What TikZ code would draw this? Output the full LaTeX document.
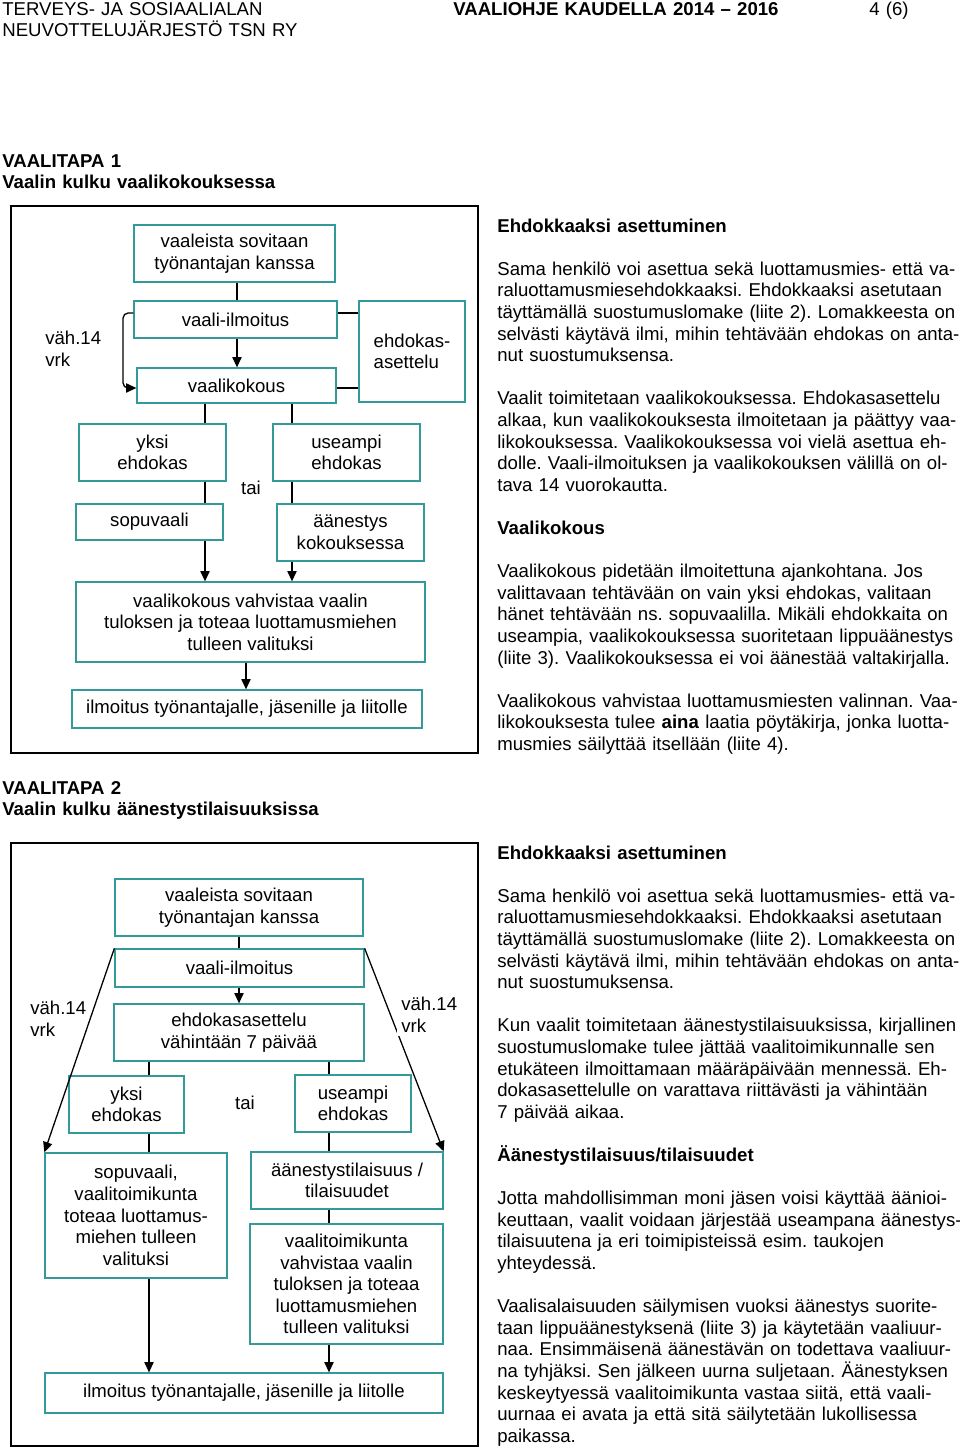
\documentclass[tikz,border=0pt]{standalone}
\usepackage{fontspec}
\setmainfont{Liberation Sans}
\usepackage{tikz}
\usetikzlibrary{positioning,arrows.meta}
\definecolor{boxteal}{RGB}{51,153,153}
\newcommand\pxu{0.58333pt}

\begin{document}
\frenchspacing
\begin{tikzpicture}[x=0.58333pt,y=-0.58333pt,
    every node/.style={font=\fontsize{10.85}{12.6}\selectfont,inner sep=0pt},
    box/.style={draw=boxteal,line width=0.75pt,align=center},
    link/.style={line width=0.75pt},
    arr/.style={link,-{Triangle[length=6pt,width=5.4pt]}},
    frame/.style={line width=0.9pt},
    para/.style={anchor=base west,align=left,text width=285pt}]
    \fill[white] (0,0) rectangle (960,1451);
    \useasboundingbox (0,0) rectangle (960,1451);
    % page head
    \node[para] (head) at (2,15) {TERVEYS- JA SOSIAALIALAN\\NEUVOTTELUJÄRJESTÖ TSN RY};
    \node[para] (title) at (453,15) {\textbf{VAALIOHJE KAUDELLA 2014 – 2016}};
    \node[para] (page) at (869,15) {4 (6)};
    % vaalitapa 1
    \node[para] (tapa1) at (2,167) {\textbf{VAALITAPA 1}\\\textbf{Vaalin kulku vaalikokouksessa}};
    \draw[frame] (11,206) rectangle (478,753);
    \node[box,minimum width=201*\pxu,minimum height=57*\pxu] (sov1) at (234.5,253.5) {vaaleista sovitaan\\työnantajan kanssa};
    \node[box,minimum width=203*\pxu,minimum height=37*\pxu] (ilmo1) at (235.5,319.5) {vaali-ilmoitus};
    \node[box,minimum width=199*\pxu,minimum height=35*\pxu] (kok1) at (236.5,385.5) {vaalikokous};
    \node[box,align=left,minimum width=106*\pxu,minimum height=101*\pxu] (ehd1) at (412,351.5) {ehdokas-\\asettelu};
    \node[box,minimum width=147*\pxu,minimum height=57*\pxu] (yksi1) at (152.5,452.5) {yksi\\ehdokas};
    \node[box,minimum width=147*\pxu,minimum height=57*\pxu] (use1) at (346.5,452.5) {useampi\\ehdokas};
    \node[box,minimum width=147*\pxu,minimum height=36*\pxu] (sopu1) at (149.5,522) {sopuvaali};
    \node[box,minimum width=147*\pxu,minimum height=57*\pxu] (aan1) at (350.5,532.5) {äänestys\\kokouksessa};
    \node[box,minimum width=349*\pxu,minimum height=80*\pxu] (vahv1) at (250.5,622) {vaalikokous vahvistaa vaalin\\tuloksen ja toteaa luottamusmiehen\\tulleen valituksi};
    \node[box,minimum width=350*\pxu,minimum height=38*\pxu] (tied1) at (247,709) {ilmoitus työnantajalle, jäsenille ja liitolle};
    \node[anchor=west,align=left] (vrk1) at (45,348.5) {väh.14\\vrk};
    \node (tai1) at (251,488) {tai};
    \coordinate (xm1) at (237,0);
    \coordinate (xl1) at (205,0);
    \coordinate (xr1) at (292,0);
    \coordinate (xv1) at (246,0);
    \coordinate (ya1) at (0,313);
    \coordinate (yb1) at (0,388);
    \coordinate (bend1) at (123,350);
    \draw[link] (sov1.south -| xm1) -- (ilmo1.north -| xm1);
    \draw[arr] (ilmo1.south -| xm1) -- (kok1.north -| xm1);
    \draw[link] (ilmo1.east |- ya1) -- (ehd1.west |- ya1);
    \draw[link] (kok1.east |- yb1) -- (ehd1.west |- yb1);
    \draw[arr,rounded corners=3pt] (ilmo1.west |- ya1) -| (bend1) |- (kok1.west |- yb1);
    \draw[link] (kok1.south -| xl1) -- (yksi1.north -| xl1);
    \draw[link] (kok1.south -| xr1) -- (use1.north -| xr1);
    \draw[link] (yksi1.south -| xl1) -- (sopu1.north -| xl1);
    \draw[link] (use1.south -| xr1) -- (aan1.north -| xr1);
    \draw[arr] (sopu1.south -| xl1) -- (vahv1.north -| xl1);
    \draw[arr] (aan1.south -| xr1) -- (vahv1.north -| xr1);
    \draw[arr] (vahv1.south -| xv1) -- (tied1.north -| xv1);
    % text beside vaalitapa 1
    \node[para] (ehdhead1) at (497,232) {\textbf{Ehdokkaaksi asettuminen}};
    \node[para] (ehdtext1) at (497,275.2) {Sama henkilö voi asettua sekä luottamusmies- että va-\\
        raluottamusmiesehdokkaaksi. Ehdokkaaksi asetutaan\\
        täyttämällä suostumuslomake (liite 2). Lomakkeesta on\\
        selvästi käytävä ilmi, mihin tehtävään ehdokas on anta-\\
        nut suostumuksensa.};
    \node[para] (koktext1) at (497,404.8) {Vaalit toimitetaan vaalikokouksessa. Ehdokasasettelu\\
        alkaa, kun vaalikokouksesta ilmoitetaan ja päättyy vaa-\\
        likokouksessa. Vaalikokouksessa voi vielä asettua eh-\\
        dolle. Vaali-ilmoituksen ja vaalikokouksen välillä on ol-\\
        tava 14 vuorokautta.};
    \node[para] (kokhead) at (497,534.4) {\textbf{Vaalikokous}};
    \node[para] (koktext2) at (497,577.6) {Vaalikokous pidetään ilmoitettuna ajankohtana. Jos\\
        valittavaan tehtävään on vain yksi ehdokas, valitaan\\
        hänet tehtävään ns. sopuvaalilla. Mikäli ehdokkaita on\\
        useampia, vaalikokouksessa suoritetaan lippuäänestys\\
        (liite 3). Vaalikokouksessa ei voi äänestää valtakirjalla.};
    \node[para] (koktext3) at (497,707.2) {Vaalikokous vahvistaa luottamusmiesten valinnan. Vaa-\\
        likokouksesta tulee \textbf{aina} laatia pöytäkirja, jonka luotta-\\
        musmies säilyttää itsellään (liite 4).};
    % vaalitapa 2
    \node[para] (tapa2) at (2,794) {\textbf{VAALITAPA 2}\\\textbf{Vaalin kulku äänestystilaisuuksissa}};
    \draw[frame] (11,843) rectangle (478,1446);
    \node[box,minimum width=248*\pxu,minimum height=57*\pxu] (sov2) at (239,907.5) {vaaleista sovitaan\\työnantajan kanssa};
    \node[box,minimum width=249*\pxu,minimum height=38*\pxu] (ilmo2) at (239.5,968) {vaali-ilmoitus};
    \node[box,minimum width=250*\pxu,minimum height=57*\pxu] (ehd2) at (239,1032.5) {ehdokasasettelu\\vähintään 7 päivää};
    \node[box,minimum width=115*\pxu,minimum height=57*\pxu] (yksi2) at (126.5,1104.5) {yksi\\ehdokas};
    \node[box,minimum width=116*\pxu,minimum height=57*\pxu] (use2) at (353,1103.5) {useampi\\ehdokas};
    \node[box,minimum width=182*\pxu,minimum height=125*\pxu] (sopu2) at (136,1215.5) {sopuvaali,\\vaalitoimikunta\\toteaa luottamus-\\miehen tulleen\\valituksi};
    \node[box,minimum width=192*\pxu,minimum height=57*\pxu] (aan2) at (347,1180.5) {äänestystilaisuus /\\tilaisuudet};
    \node[box,minimum width=193*\pxu,minimum height=120*\pxu] (vtk2) at (346.5,1284) {vaalitoimikunta\\vahvistaa vaalin\\tuloksen ja toteaa\\luottamusmiehen\\tulleen valituksi};
    \node[box,minimum width=398*\pxu,minimum height=40*\pxu] (tied2) at (244,1393) {ilmoitus työnantajalle, jäsenille ja liitolle};
    \node (tai2) at (245,1103) {tai};
    \coordinate (xm2) at (239,0);
    \coordinate (xl2) at (149,0);
    \coordinate (xr2) at (329,0);
    \draw[link] (sov2.south -| xm2) -- (ilmo2.north -| xm2);
    \draw[arr] (ilmo2.south -| xm2) -- (ehd2.north -| xm2);
    \draw[link] (ehd2.south -| xl2) -- (yksi2.north -| xl2);
    \draw[link] (ehd2.south -| xr2) -- (use2.north -| xr2);
    \draw[link] (yksi2.south -| xl2) -- (sopu2.north -| xl2);
    \draw[link] (use2.south -| xr2) -- (aan2.north -| xr2);
    \draw[link] (aan2.south -| xr2) -- (vtk2.north -| xr2);
    \draw[arr] (sopu2.south -| xl2) -- (tied2.north -| xl2);
    \draw[arr] (vtk2.south -| xr2) -- (tied2.north -| xr2);
    \draw[arr] (ilmo2.north west) -- (sopu2.north west);
    \draw[arr] (ilmo2.north east) -- (aan2.north east);
    \node[anchor=west,align=left] (vrk2) at (30,1019) {väh.14\\vrk};
    \node[anchor=west,align=left,fill=white,inner sep=2.5pt] (vrk3) at (396.7,1014.5) {väh.14\\vrk};
    % text beside vaalitapa 2
    \node[para] (ehdhead2) at (497,859) {\textbf{Ehdokkaaksi asettuminen}};
    \node[para] (ehdtext2) at (497,902.2) {Sama henkilö voi asettua sekä luottamusmies- että va-\\
        raluottamusmiesehdokkaaksi. Ehdokkaaksi asetutaan\\
        täyttämällä suostumuslomake (liite 2). Lomakkeesta on\\
        selvästi käytävä ilmi, mihin tehtävään ehdokas on anta-\\
        nut suostumuksensa.};
    \node[para] (ehdtext3) at (497,1031.8) {Kun vaalit toimitetaan äänestystilaisuuksissa, kirjallinen\\
        suostumuslomake tulee jättää vaalitoimikunnalle sen\\
        etukäteen ilmoittamaan määräpäivään mennessä. Eh-\\
        dokasasettelulle on varattava riittävästi ja vähintään\\
        7 päivää aikaa.};
    \node[para] (aanhead) at (497,1161.4) {\textbf{Äänestystilaisuus/tilaisuudet}};
    \node[para] (aantext1) at (497,1204.6) {Jotta mahdollisimman moni jäsen voisi käyttää äänioi-\\
        keuttaan, vaalit voidaan järjestää useampana äänestys-\\
        tilaisuutena ja eri toimipisteissä esim. taukojen\\
        yhteydessä.};
    \node[para] (aantext2) at (497,1312.6) {Vaalisalaisuuden säilymisen vuoksi äänestys suorite-\\
        taan lippuäänestyksenä (liite 3) ja käytetään vaaliuur-\\
        naa. Ensimmäisenä äänestävän on todettava vaaliuur-\\
        na tyhjäksi. Sen jälkeen uurna suljetaan. Äänestyksen\\
        keskeytyessä vaalitoimikunta vastaa siitä, että vaali-\\
        uurnaa ei avata ja että sitä säilytetään lukollisessa\\
        paikassa.};
\end{tikzpicture}
\end{document}
